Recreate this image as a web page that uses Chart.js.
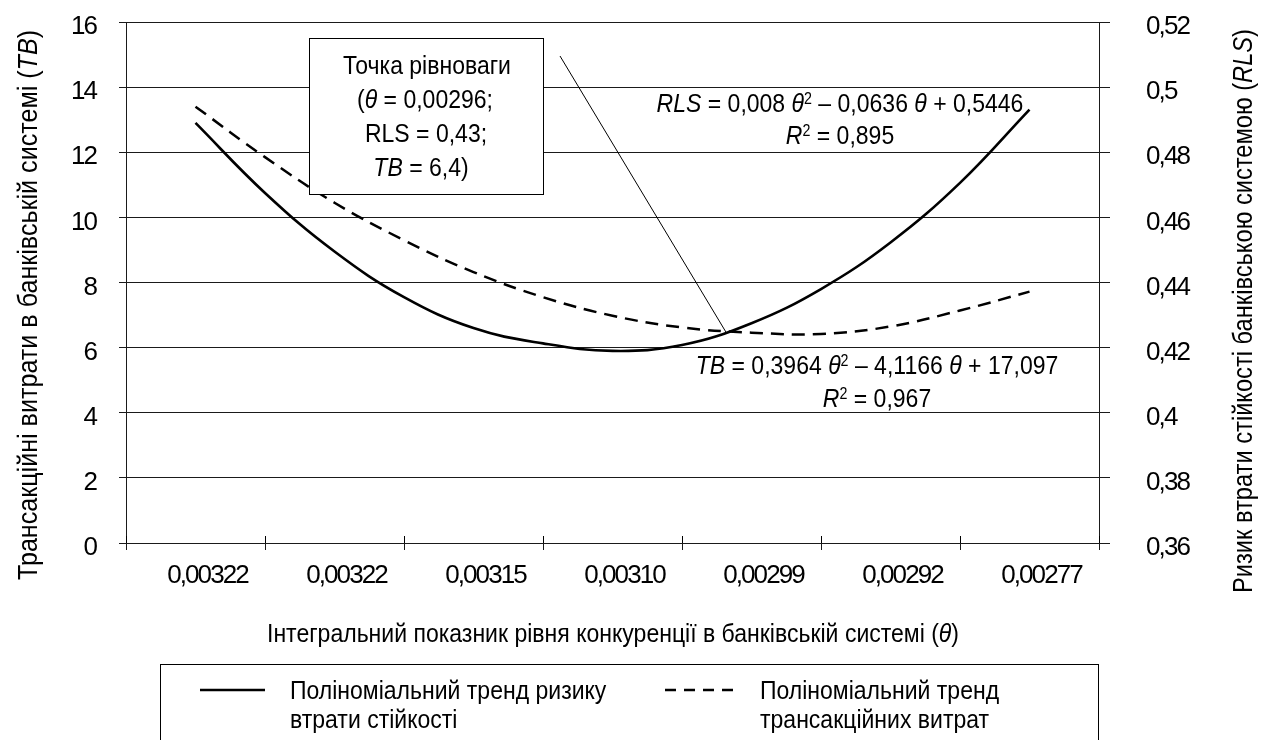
<!DOCTYPE html>
<html><head><meta charset="utf-8">
<script src="https://cdn.jsdelivr.net/npm/chart.js@4/dist/chart.umd.min.js"></script>
<style>html,body{margin:0;padding:0;background:#fff}#wrap{width:1264px;height:740px;position:relative}</style>
</head><body><div id="wrap"><canvas id="c"></canvas></div>
<script>
// ---- data ----
const categories = ['0,00322', '0,00322', '0,00315', '0,00310', '0,00299', '0,00292', '0,00277'];
const thetaPositions = [1, 1.5, 2, 2.5, 3, 3.5, 4, 4.5, 5, 5.5, 6, 6.5, 7];
const tbTrend  = [13.4, 11.85, 10.45, 9.3, 8.32, 7.55, 6.98, 6.62, 6.46, 6.42, 6.65, 7.14, 7.72];
const rlsTrend = [0.489, 0.4675, 0.4495, 0.4355, 0.426, 0.4213, 0.419, 0.4208, 0.4275, 0.438, 0.4523, 0.4706, 0.4931];
const leftAxis  = {min: 0, max: 16, step: 2};
const rightAxis = {min: 0.36, max: 0.52, step: 0.02};
const equilibrium = {theta: 4.82, tb: 6.45};

const FONT = "'Liberation Sans Narrow','Arial Narrow','Liberation Sans',Arial,sans-serif";
const SZ = 26;
const SX = 0.885; // horizontal condensing of the narrow typeface
const TICK_SPACING = '-1.9px';
function fnt(size, italic) { return (italic ? 'italic ' : '') + size + 'px ' + FONT; }
function segSize(s, size) { return s.sup ? size * 0.62 : size; }
function richWidth(ctx, segs, size) {
  let w = 0;
  for (const s of segs) { ctx.font = fnt(segSize(s, size), s.i); w += ctx.measureText(s.t).width; }
  return w;
}
// y = vertical middle of the text; opts.width = wanted total width (condenses horizontally)
function drawRich(ctx, segs, x, y, size, opts) {
  opts = opts || {};
  ctx.save();
  ctx.letterSpacing = '0px';
  const w = richWidth(ctx, segs, size);
  const sx = opts.width ? opts.width / w : SX;
  ctx.translate(x, y);
  ctx.scale(sx, 1);
  let cx = opts.align === 'left' ? 0 : -w / 2;
  const base = size * 0.36;
  ctx.textBaseline = 'alphabetic'; ctx.textAlign = 'left'; ctx.fillStyle = '#000';
  for (const s of segs) {
    const sz = segSize(s, size);
    ctx.font = fnt(sz, s.i);
    ctx.fillText(s.t, cx, s.sup ? base - size * 0.33 : base);
    cx += ctx.measureText(s.t).width;
  }
  ctx.restore();
}

const decor = {
  id: 'decor',
  beforeDraw(chart) {
    chart.ctx.letterSpacing = TICK_SPACING;
  },
  afterDraw(chart) {
    const ctx = chart.ctx;
    const xs = chart.scales.x, xd = chart.scales.xData, y = chart.scales.y;
    const ca = chart.chartArea;
    ctx.save();
    ctx.letterSpacing = '0px';
    // inner half of x tick marks
    ctx.strokeStyle = '#000'; ctx.lineWidth = 1;
    const n = categories.length;
    for (let k = 0; k <= n; k++) {
      const px = Math.round(xs.left + k * xs.width / n) + 0.5;
      ctx.beginPath(); ctx.moveTo(px, ca.bottom - 7); ctx.lineTo(px, ca.bottom); ctx.stroke();
    }
    // axis titles
    drawRich(ctx, [{t: 'Інтегральний показник рівня конкуренції в банківській системі ('}, {t: 'θ', i: true}, {t: ')'}],
      613, 633, SZ, {width: 692});
    ctx.save(); ctx.translate(27, 305); ctx.rotate(-Math.PI / 2);
    drawRich(ctx, [{t: 'Трансакційні витрати в банківській системі ('}, {t: 'TB', i: true}, {t: ')'}], 0, 0, 27, {width: 550});
    ctx.restore();
    ctx.save(); ctx.translate(1242, 311); ctx.rotate(-Math.PI / 2);
    drawRich(ctx, [{t: 'Ризик втрати стійкості банківською системою ('}, {t: 'RLS', i: true}, {t: ')'}], 0, 0, 27, {width: 564});
    ctx.restore();

    // pointer line to the equilibrium point
    const ex = xd.getPixelForValue(equilibrium.theta), ey = y.getPixelForValue(equilibrium.tb);
    ctx.strokeStyle = '#000'; ctx.lineWidth = 1;
    ctx.beginPath(); ctx.moveTo(560, 56); ctx.lineTo(ex, ey); ctx.stroke();

    // annotation box
    ctx.fillStyle = '#fff';
    ctx.fillRect(309.5, 38.5, 234, 156);
    ctx.strokeRect(309.5, 38.5, 234, 156);
    drawRich(ctx, [{t: 'Точка рівноваги'}], 427, 65, SZ);
    drawRich(ctx, [{t: '('}, {t: 'θ', i: true}, {t: ' = 0,00296;'}], 425, 99, SZ);
    drawRich(ctx, [{t: 'RLS = 0,43;'}], 426, 133, SZ);
    drawRich(ctx, [{t: 'TB', i: true}, {t: ' = 6,4)'}], 421, 167, SZ);

    // trend equations
    drawRich(ctx, [{t: 'RLS', i: true}, {t: ' = 0,008 '}, {t: 'θ', i: true}, {t: '2', sup: true}, {t: ' – 0,0636 '}, {t: 'θ', i: true}, {t: ' + 0,5446'}], 840, 103, SZ);
    drawRich(ctx, [{t: 'R', i: true}, {t: '2', sup: true}, {t: ' = 0,895'}], 840, 135, SZ);
    drawRich(ctx, [{t: 'TB', i: true}, {t: ' = 0,3964 '}, {t: 'θ', i: true}, {t: '2', sup: true}, {t: ' – 4,1166 '}, {t: 'θ', i: true}, {t: ' + 17,097'}], 877, 365, SZ);
    drawRich(ctx, [{t: 'R', i: true}, {t: '2', sup: true}, {t: ' = 0,967'}], 877, 398, SZ);

    // legend
    ctx.strokeStyle = '#000'; ctx.lineWidth = 1;
    ctx.strokeRect(160.5, 664.5, 938, 100);
    ctx.lineWidth = 2.5;
    ctx.beginPath(); ctx.moveTo(200, 690); ctx.lineTo(265, 690); ctx.stroke();
    ctx.setLineDash([11, 8]);
    ctx.beginPath(); ctx.moveTo(665, 690); ctx.lineTo(736, 690); ctx.stroke();
    ctx.setLineDash([]);
    drawRich(ctx, [{t: 'Поліноміальний тренд ризику'}], 290, 690, SZ, {align: 'left'});
    drawRich(ctx, [{t: 'втрати стійкості'}], 290, 719, SZ, {align: 'left'});
    drawRich(ctx, [{t: 'Поліноміальний тренд'}], 760, 690, SZ, {align: 'left'});
    drawRich(ctx, [{t: 'трансакційних витрат'}], 760, 719, SZ, {align: 'left'});
    ctx.restore();
  }
};

const GRID = '#1a1a1a';
const canvas = document.getElementById('c');
new Chart(canvas, {
  type: 'line',
  data: {
    labels: categories,
    datasets: [
      {
        label: 'Поліноміальний тренд ризику втрати стійкості',
        data: thetaPositions.map((t, i) => ({x: t, y: rlsTrend[i]})),
        xAxisID: 'xData', yAxisID: 'y1',
        borderColor: '#000', borderWidth: 2.6, pointRadius: 0, tension: 0.4, fill: false
      },
      {
        label: 'Поліноміальний тренд трансакційних витрат',
        data: thetaPositions.map((t, i) => ({x: t, y: tbTrend[i]})),
        xAxisID: 'xData', yAxisID: 'y',
        borderColor: '#000', borderWidth: 2.5, borderDash: [13, 8], pointRadius: 0, tension: 0.4, fill: false
      }
    ]
  },
  options: {
    responsive: true, maintainAspectRatio: false, animation: false,
    layout: {padding: {top: 22, left: 0, right: 0, bottom: 0}},
    plugins: {legend: {display: false}, tooltip: {enabled: false}},
    scales: {
      x: {
        type: 'category', position: 'bottom', offset: true,
        grid: {offset: true, drawOnChartArea: false, drawTicks: true, tickLength: 7, color: GRID},
        border: {display: true, color: GRID},
        ticks: {color: '#000', font: {family: FONT, size: SZ}, padding: 10, labelOffset: 12, maxRotation: 0, autoSkip: false},
        afterFit(s) { s.height = 197; s.paddingLeft = 0; s.paddingRight = 0; }
      },
      xData: {
        type: 'linear', display: false, min: 0.5, max: 7.5
      },
      y: {
        position: 'left', min: leftAxis.min, max: leftAxis.max,
        grid: {color: GRID, tickLength: 7, drawTicks: true},
        border: {display: true, color: GRID},
        ticks: {stepSize: leftAxis.step, color: '#000', font: {family: FONT, size: SZ}, padding: 23, labelOffset: 5},
        afterFit(s) { s.width = 126; s.paddingTop = 0; s.paddingBottom = 0; }
      },
      y1: {
        position: 'right', min: rightAxis.min, max: rightAxis.max,
        grid: {drawOnChartArea: false, color: GRID, tickLength: 11, drawTicks: true},
        border: {display: true, color: GRID},
        ticks: {stepSize: rightAxis.step, color: '#000', font: {family: FONT, size: SZ}, padding: 36, labelOffset: 5,
          callback: v => String(Math.round(v * 100) / 100).replace('.', ',')},
        afterFit(s) { s.width = 165; s.paddingTop = 0; s.paddingBottom = 0; }
      }
    }
  },
  plugins: [decor]
});
</script>
</body></html>
